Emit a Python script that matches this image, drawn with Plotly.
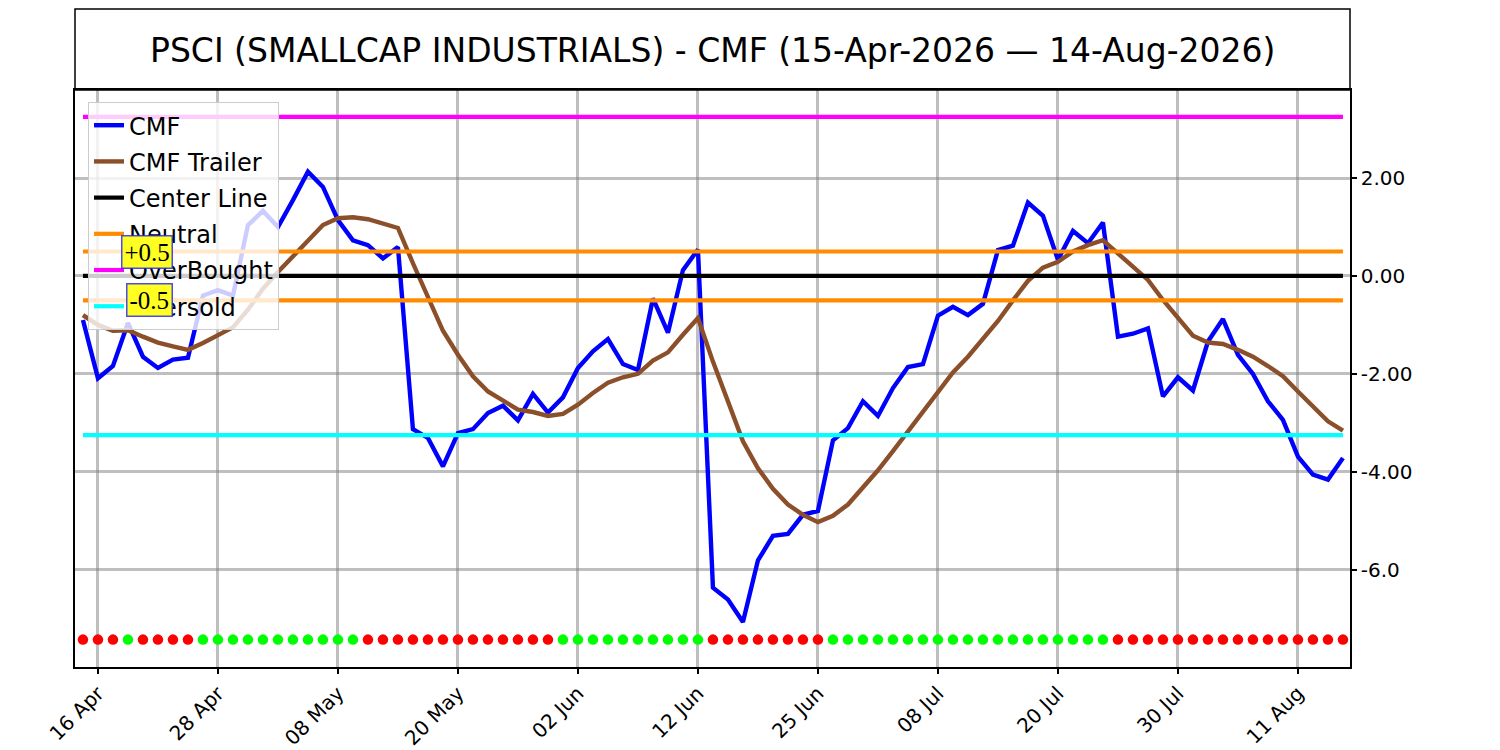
import pandas as pd
import plotly.graph_objects as go


# trading days 15-Apr-2026 .. 14-Aug-2026 (US market holidays removed)
holidays = ['2026-05-25', '2026-06-19', '2026-07-03']
dates = pd.bdate_range('2026-04-15', '2026-08-14', freq='C', holidays=holidays)

cmf = [-0.90, -2.09, -1.84, -0.96, -1.65, -1.88, -1.71, -1.67, -0.40, -0.29,
       -0.40, 1.04, 1.33, 1.00, 1.55, 2.13, 1.82, 1.14, 0.73, 0.63,
       0.36, 0.59, -3.13, -3.31, -3.89, -3.21, -3.13, -2.80, -2.65, -2.95,
       -2.41, -2.79, -2.48, -1.88, -1.54, -1.29, -1.80, -1.92, -0.46, -1.16,
       0.12, 0.54, -6.37, -6.61, -7.07, -5.81, -5.31, -5.27, -4.88, -4.80,
       -3.36, -3.11, -2.56, -2.86, -2.29, -1.86, -1.80, -0.81, -0.63, -0.80,
       -0.57, 0.53, 0.62, 1.50, 1.23, 0.33, 0.92, 0.67, 1.09, -1.24,
       -1.18, -1.07, -2.46, -2.07, -2.34, -1.34, -0.88, -1.61, -2.00, -2.56,
       -2.94, -3.69, -4.06, -4.16, -3.72]

cmf_trailer = [-0.80, -1.00, -1.12, -1.11, -1.24, -1.36, -1.44, -1.51, -1.37, -1.21,
               -1.05, -0.69, -0.26, 0.08, 0.39, 0.73, 1.04, 1.18, 1.20, 1.16,
               1.06, 0.98, 0.26, -0.42, -1.12, -1.61, -2.05, -2.36, -2.54, -2.73,
               -2.78, -2.86, -2.82, -2.63, -2.39, -2.18, -2.07, -2.00, -1.73, -1.56,
               -1.20, -0.86, -1.75, -2.56, -3.38, -3.93, -4.35, -4.67, -4.88, -5.03,
               -4.90, -4.67, -4.33, -3.97, -3.58, -3.18, -2.80, -2.38, -1.97, -1.65,
               -1.30, -0.92, -0.50, -0.10, 0.17, 0.29, 0.50, 0.63, 0.73, 0.46,
               0.19, -0.08, -0.49, -0.86, -1.22, -1.36, -1.39, -1.51, -1.65, -1.84,
               -2.05, -2.36, -2.67, -2.97, -3.16]

# 1 = bullish (green dot), 0 = bearish (red dot)
signal = ([0] * 3 + [1] + [0] * 4 + [1] * 11 + [0] * 13 + [1] * 10
          + [0] * 8 + [1] * 19 + [0] * 16)

center_level = 0.0
neutral_level = 0.5
overbought_level = 3.25
oversold_level = -3.25
signal_level = -7.43

ytick_vals = [-6, -4, -2, 0, 2]
ytick_text = ['-6.0', '-4.00', '-2.00', '0.00', '2.00']

idx = list(range(len(dates)))
tick_idx = idx[1::8]
tick_text = [dates[i].strftime('%d %b') for i in tick_idx]
first, last = idx[0], idx[-1]

FONT = 'DejaVu Sans'

fig = go.Figure()

fig.add_trace(go.Scatter(x=idx, y=[signal_level] * len(idx),
                         mode='markers', showlegend=False, hoverinfo='skip',
                         marker=dict(size=10.5,
                                     color=['#00ff00' if s else '#ff0000' for s in signal])))

fig.add_trace(go.Scatter(x=idx, y=cmf, name='CMF', mode='lines',
                         legendgroup='a', line=dict(color='#0000ff', width=4.4)))
fig.add_trace(go.Scatter(x=idx, y=cmf_trailer, name='CMF Trailer', mode='lines',
                         legendgroup='b', line=dict(color='#8b4f2a', width=4.4)))
fig.add_trace(go.Scatter(x=[first, last], y=[center_level] * 2, name='Center Line',
                         mode='lines', legendgroup='c', line=dict(color='black', width=4.2)))
fig.add_trace(go.Scatter(x=[first, last, None, first, last],
                         y=[neutral_level, neutral_level, None, -neutral_level, -neutral_level],
                         name='Neutral', mode='lines', legendgroup='d',
                         line=dict(color='#ff8c00', width=4.2)))
fig.add_trace(go.Scatter(x=[first, last], y=[overbought_level] * 2, name='OverBought',
                         mode='lines', legendgroup='e', line=dict(color='#ff00ff', width=4.2)))
fig.add_trace(go.Scatter(x=[first, last], y=[oversold_level] * 2, name='Oversold',
                         mode='lines', legendgroup='f', line=dict(color='#00ffff', width=4.2)))

for lvl, txt in [(neutral_level, '+0.5'), (-neutral_level, '-0.5')]:
    fig.add_annotation(x=6, y=lvl, text=txt, showarrow=False,
                       xanchor='right', yanchor='middle',
                       font=dict(family='Liberation Serif', size=25, color='black'),
                       bgcolor='#ffff22', bordercolor='rgba(30,30,255,0.8)',
                       borderwidth=1.5, borderpad=2)

# title box above the plot
fig.add_shape(type='rect', xref='paper', yref='paper', x0=0, x1=1, y0=1, y1=1.1404,
              line=dict(color='black', width=1.5))
fig.add_annotation(xref='paper', yref='paper', x=0.5, y=1.0693, showarrow=False,
                   text='PSCI (SMALLCAP INDUSTRIALS) - CMF (15-Apr-2026 \u2014 14-Aug-2026)',
                   font=dict(family=FONT, size=33, color='black'),
                   xanchor='center', yanchor='middle')

grid = 'rgba(128,128,128,0.5)'
fig.update_xaxes(range=[-0.53, 84.47], tickvals=tick_idx, ticktext=tick_text,
                 tickangle=-45, ticks='outside', ticklen=5, tickwidth=1.5, tickcolor='black',
                 showgrid=True, gridcolor=grid, gridwidth=3, zeroline=False,
                 showline=True, linecolor='black', linewidth=1.5, mirror=True,
                 automargin=False,
                 tickfont=dict(family=FONT, size=20, color='black'))
fig.update_yaxes(range=[-7.99, 3.8], side='right', tickvals=ytick_vals, ticktext=ytick_text,
                 ticks='outside', ticklen=5, tickwidth=1.5, tickcolor='black',
                 showgrid=True, gridcolor=grid, gridwidth=3, zeroline=False,
                 showline=True, linecolor='black', linewidth=1.5, mirror=True,
                 automargin=False,
                 tickfont=dict(family=FONT, size=20, color='black'))

# the page adds an 8px body margin, so the figure is a bit smaller than the window
fig.update_layout(width=1492, height=742,
                  margin=dict(l=67, r=150, t=82, b=83),
                  plot_bgcolor='white', paper_bgcolor='white',
                  font=dict(family=FONT, color='black'),
                  legend=dict(x=0.0102, y=0.979, xanchor='left', yanchor='top',
                              bgcolor='rgba(255,255,255,0.8)', bordercolor='#cccccc',
                              borderwidth=1, tracegroupgap=2,
                              font=dict(family=FONT, size=24, color='black')))

fig.write_html('out.html')
